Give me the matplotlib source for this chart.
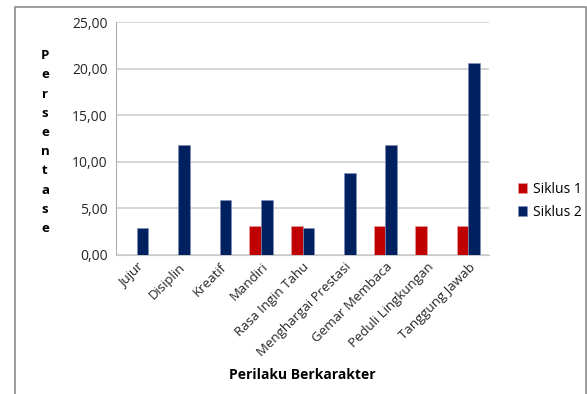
import matplotlib
matplotlib.use("Agg")
import matplotlib.pyplot as plt
import numpy as np
from matplotlib.patches import Rectangle

categories = ["Jujur", "Disiplin", "Kreatif", "Mandiri", "Rasa Ingin Tahu",
              "Menghargai Prestasi", "Gemar Membaca", "Peduli Lingkungan", "Tanggung Jawab"]
siklus1 = [0, 0, 0, 3.13, 3.13, 0, 3.13, 3.13, 3.13]
siklus2 = [2.94, 11.76, 5.88, 5.88, 2.94, 8.82, 11.76, 0, 20.59]
yticks = [0, 5, 10, 15, 20, 25]
ytick_labels = ["0,00", "5,00", "10,00", "15,00", "20,00", "25,00"]

plt.rcParams['font.family'] = ['Open Sans', 'DejaVu Sans']

fig = plt.figure(figsize=(5.87, 3.94), dpi=100)
fig.patches.append(Rectangle((15/587, -0.05), (586-15)/587, 1 - 7/394 + 0.05,
                             transform=fig.transFigure, fill=False,
                             edgecolor="#8c8c8c", linewidth=1.2))
ax = fig.add_axes([116/587, 1-255/394, (489-116)/587, (255-22)/394])

x = np.arange(len(categories))
w = 0.28
ax.bar(x - w/2, siklus1, w, color="#C00000", edgecolor="#e8a0a0", linewidth=0.4, label="Siklus 1", zorder=3)
ax.bar(x + w/2, siklus2, w, color="#002060", edgecolor="#8090b8", linewidth=0.4, label="Siklus 2", zorder=3)

ax.set_xlim(-0.5, len(categories) - 0.5)
ax.set_ylim(0, 25)
ax.set_yticks(yticks)
ax.set_yticklabels(ytick_labels, fontsize=10, color="#262626")
ax.set_xticks(x)
ax.set_xticklabels(categories, rotation=45, ha="right", rotation_mode="anchor", fontsize=9.5, color="#262626")
ax.tick_params(axis="both", length=0, pad=6)
ax.tick_params(axis="x", pad=4)
ax.grid(axis="y", color="#d0d0d0", linewidth=1.2, zorder=0)
for s in ["top", "right"]:
    ax.spines[s].set_visible(False)
ax.spines["left"].set_color("#b0b0b0")
ax.spines["bottom"].set_color("#c8c8c8")

ylabel = "\n".join("Persentase")
fig.text(45/587, 1-142/394, ylabel, ha="center", va="center", fontsize=9.5,
         fontweight="bold", linespacing=1.62)
fig.text(302/587, 1-375/394, "Perilaku Berkarakter", ha="center", va="center",
         fontsize=10, fontweight="bold")

leg = fig.legend(loc="center left", bbox_to_anchor=(505/587, 1-201/394), frameon=False,
                 fontsize=10, handlelength=0.7, handleheight=0.7, handletextpad=0.4,
                 labelspacing=0.6)

fig.savefig("out.png", dpi=100)
